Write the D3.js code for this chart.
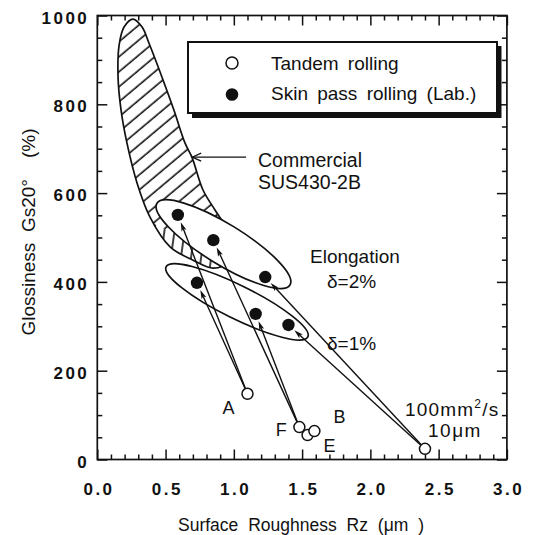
<!DOCTYPE html>
<html>
<head>
<meta charset="utf-8">
<script src="https://cdn.jsdelivr.net/npm/d3@7"></script>
<style>
  html, body { margin: 0; padding: 0; background: #fff; }
  svg { display: block; }
  text { font-family: "Liberation Sans", Arial, Helvetica, sans-serif; fill: #111; }
</style>
</head>
<body>
<svg id="chart"></svg>
<script>
// ---- data ----
const xMajor = [0, 0.5, 1.0, 1.5, 2.0, 2.5, 3.0];
const yMajor = [0, 200, 400, 600, 800, 1000];
const xMinor = [0.1, 0.2, 0.3, 0.4, 0.6, 0.7, 0.8, 0.9, 1.1, 1.2, 1.3, 1.4, 1.6, 1.7, 1.8, 1.9, 2.1, 2.2, 2.3, 2.4, 2.6, 2.7, 2.8, 2.9];
const yMinor = [50, 100, 150, 250, 300, 350, 450, 500, 550, 650, 700, 750, 850, 900, 950];

// tandem rolling (open circles)
const tandemX = [1.10, 1.48, 1.54, 1.59, 2.40];
const tandemY = [148, 73, 55, 64, 24];
const tandemNames = ['A', 'F', 'E', 'B', ''];

// skin pass rolling, lab (filled circles)
const skinX = [0.59, 0.85, 0.73, 1.16, 1.23, 1.40];
const skinY = [551, 494, 398, 328, 411, 303];

// arrows: [tandem index, skin index]
const arrowPairs = [[0, 0], [0, 2], [1, 1], [1, 3], [4, 4], [4, 5]];

// commercial SUS430-2B band (outline)
const commercialX = [0.261, 0.328, 0.378, 0.474, 0.561, 0.642, 0.693, 0.774, 0.862, 0.928, 0.986, 0.960,
                     0.849, 0.701, 0.533, 0.386, 0.291, 0.217, 0.174, 0.152, 0.160, 0.196];
const commercialY = [992, 974, 938, 861, 787, 713, 681, 607, 562, 530, 490, 445,
                     431, 449, 479, 546, 623, 713, 787, 861, 934, 974];

// elongation ellipses: delta = 2 %, delta = 1 %
const ellipseCenter = [[0.924, 485], [1.023, 355]];
const ellipseEnd = [[1.411, 393], [1.542, 276]];
const ellipseMinor = [[1.001, 524], [1.075, 389]];

const legendLabels = ['Tandem rolling', 'Skin pass rolling (Lab.)'];

// ---- layout ----
const width = 536, height = 535;
const plot = { left: 97.3, right: 506.9, top: 15.5, bottom: 459.5 };
const ink = '#111';

const svg = d3.select('#chart').attr('width', width).attr('height', height);
svg.append('rect').attr('width', width).attr('height', height).attr('fill', '#fff');

const x = d3.scaleLinear().domain([0, 3]).range([plot.left, plot.right]);
const y = d3.scaleLinear().domain([0, 1000]).range([plot.bottom, plot.top]);

// hatch patterns
const defs = svg.append('defs');
defs.append('pattern')
  .attr('id', 'hatchDiag')
  .attr('patternUnits', 'userSpaceOnUse')
  .attr('width', 10).attr('height', 11.5)
  .attr('patternTransform', 'rotate(-40)')
  .append('line')
  .attr('x1', -1).attr('y1', 5).attr('x2', 11).attr('y2', 5)
  .attr('stroke', ink).attr('stroke-width', 1.6);

defs.append('pattern')
  .attr('id', 'hatchVert')
  .attr('patternUnits', 'userSpaceOnUse')
  .attr('width', 10).attr('height', 10)
  .attr('patternTransform', 'rotate(8)')
  .append('line')
  .attr('x1', 5).attr('y1', -1).attr('x2', 5).attr('y2', 11)
  .attr('stroke', ink).attr('stroke-width', 1.6);

const outline = d3.range(commercialX.length).map(i => [x(commercialX[i]), y(commercialY[i])]);
const bandLine = d3.line().curve(d3.curveCatmullRomClosed.alpha(0.5));

defs.append('clipPath').attr('id', 'bandClip')
  .append('path').attr('d', bandLine(outline));

// Commercial band: diagonal hatch, vertical hatch in the lower part
svg.append('path')
  .attr('d', bandLine(outline))
  .attr('fill', 'url(#hatchDiag)');

const lower = svg.append('g').attr('clip-path', 'url(#bandClip)');
const split = [[x(0), y(590)], [x(1.05), y(440)], [x(1.05), y(300)], [x(0), y(300)]];
lower.append('path').attr('d', d3.line()(split) + 'Z').attr('fill', '#fff');
lower.append('path').attr('d', d3.line()(split) + 'Z').attr('fill', 'url(#hatchVert)');

svg.append('path')
  .attr('d', bandLine(outline))
  .attr('fill', 'none')
  .attr('stroke', ink)
  .attr('stroke-width', 1.7);

// Elongation ellipses (white fill hides the hatch)
const ellipses = ellipseCenter.map((c, i) => {
  const cx = x(c[0]), cy = y(c[1]);
  const ex = x(ellipseEnd[i][0]), ey = y(ellipseEnd[i][1]);
  const mx = x(ellipseMinor[i][0]), my = y(ellipseMinor[i][1]);
  return {
    cx, cy,
    rx: Math.hypot(ex - cx, ey - cy),
    ry: Math.hypot(mx - cx, my - cy),
    angle: Math.atan2(ey - cy, ex - cx) * 180 / Math.PI
  };
});

const ellG = svg.append('g');
ellG.selectAll('.ell-fill').data(ellipses).join('ellipse')
  .attr('class', 'ell-fill')
  .attr('transform', d => `translate(${d.cx},${d.cy}) rotate(${d.angle})`)
  .attr('rx', d => d.rx).attr('ry', d => d.ry)
  .attr('fill', '#fff');
ellG.selectAll('.ell-line').data(ellipses).join('ellipse')
  .attr('class', 'ell-line')
  .attr('transform', d => `translate(${d.cx},${d.cy}) rotate(${d.angle})`)
  .attr('rx', d => d.rx).attr('ry', d => d.ry)
  .attr('fill', 'none')
  .attr('stroke', ink)
  .attr('stroke-width', 1.7);

// Arrows from tandem samples to skin pass samples
const arrowG = svg.append('g');
arrowPairs.forEach(([ti, si]) => {
  const x0 = x(tandemX[ti]), y0 = y(tandemY[ti]);
  const x1 = x(skinX[si]), y1 = y(skinY[si]);
  const len = Math.hypot(x1 - x0, y1 - y0);
  const ux = (x1 - x0) / len, uy = (y1 - y0) / len;
  const sx = x0 + ux * 5.5, sy = y0 + uy * 5.5;
  const tx = x1 - ux * 8, ty = y1 - uy * 8;
  const hl = 9, hw = 2.6;
  const bx = tx - ux * hl, by = ty - uy * hl;
  arrowG.append('line')
    .attr('x1', sx).attr('y1', sy).attr('x2', bx + ux * 2).attr('y2', by + uy * 2)
    .attr('stroke', ink).attr('stroke-width', 1.4);
  arrowG.append('path')
    .attr('d', `M${tx},${ty}L${bx - uy * hw},${by + ux * hw}L${bx + ux * 2},${by + uy * 2}L${bx + uy * hw},${by - ux * hw}Z`)
    .attr('fill', ink);
});

// Points
svg.append('g').selectAll('circle')
  .data(skinX.map((v, i) => [v, skinY[i]]))
  .join('circle')
  .attr('cx', d => x(d[0])).attr('cy', d => y(d[1]))
  .attr('r', 6.2)
  .attr('fill', ink);

svg.append('g').selectAll('circle')
  .data(tandemX.map((v, i) => [v, tandemY[i]]))
  .join('circle')
  .attr('cx', d => x(d[0])).attr('cy', d => y(d[1]))
  .attr('r', 5.5)
  .attr('fill', '#fff')
  .attr('stroke', ink)
  .attr('stroke-width', 1.5);

// Point labels
const nameOffset = { A: [-19, 20], F: [-18, 9], E: [22, 17], B: [25, -8] };
svg.append('g').selectAll('text')
  .data(tandemNames.map((n, i) => ({ n, i })).filter(d => d.n))
  .join('text')
  .attr('x', d => x(tandemX[d.i]) + nameOffset[d.n][0])
  .attr('y', d => y(tandemY[d.i]) + nameOffset[d.n][1])
  .attr('text-anchor', 'middle')
  .attr('font-size', 18)
  .text(d => d.n);

// ---- axes ----
function styleAxis(g) {
  g.select('.domain').remove();
  g.selectAll('.tick line').attr('stroke', ink).attr('stroke-width', 1.5);
  g.selectAll('.tick text')
    .attr('font-size', 17)
    .attr('font-weight', 'bold')
    .attr('letter-spacing', '2.5px')
    .attr('fill', ink);
}

svg.append('g')
  .attr('transform', `translate(0,${plot.bottom})`)
  .call(d3.axisBottom(x).tickValues(xMajor).tickSize(-10).tickSizeOuter(0).tickPadding(23).tickFormat(d3.format('.1f')))
  .call(styleAxis)
  .selectAll('.tick text').attr('dx', '1.2px');
svg.append('g')
  .attr('transform', `translate(0,${plot.bottom})`)
  .call(d3.axisBottom(x).tickValues(xMinor).tickSize(-5).tickSizeOuter(0).tickFormat(''))
  .call(styleAxis);

svg.append('g')
  .attr('transform', `translate(0,${plot.top})`)
  .call(d3.axisTop(x).tickValues(xMajor).tickSize(-10).tickSizeOuter(0).tickFormat(''))
  .call(styleAxis);
svg.append('g')
  .attr('transform', `translate(0,${plot.top})`)
  .call(d3.axisTop(x).tickValues(xMinor).tickSize(-5).tickSizeOuter(0).tickFormat(''))
  .call(styleAxis);

svg.append('g')
  .attr('transform', `translate(${plot.left},0)`)
  .call(d3.axisLeft(y).tickValues(yMajor).tickSize(-10).tickSizeOuter(0).tickPadding(8).tickFormat(d3.format('d')))
  .call(styleAxis)
  .selectAll('.tick text').attr('dy', '0.45em');
svg.append('g')
  .attr('transform', `translate(${plot.left},0)`)
  .call(d3.axisLeft(y).tickValues(yMinor).tickSize(-5).tickSizeOuter(0).tickFormat(''))
  .call(styleAxis);

svg.append('g')
  .attr('transform', `translate(${plot.right},0)`)
  .call(d3.axisRight(y).tickValues(yMajor).tickSize(-10).tickSizeOuter(0).tickFormat(''))
  .call(styleAxis);
svg.append('g')
  .attr('transform', `translate(${plot.right},0)`)
  .call(d3.axisRight(y).tickValues(yMinor).tickSize(-5).tickSizeOuter(0).tickFormat(''))
  .call(styleAxis);

// frame
svg.append('rect')
  .attr('x', plot.left).attr('y', plot.top)
  .attr('width', plot.right - plot.left).attr('height', plot.bottom - plot.top)
  .attr('fill', 'none')
  .attr('stroke', ink)
  .attr('stroke-width', 1.7);

// axis titles
svg.append('text')
  .attr('x', 301).attr('y', 531)
  .attr('text-anchor', 'middle')
  .attr('font-size', 17.5)
  .attr('word-spacing', '5px')
  .text('Surface Roughness  Rz  (μm )');

svg.append('text')
  .attr('transform', 'translate(35,232) rotate(-90)')
  .attr('text-anchor', 'middle')
  .attr('font-size', 19)
  .attr('xml:space', 'preserve')
  .text('Glossiness  Gs20°    (%)');

// ---- legend ----
const legend = svg.append('g');
legend.append('path')
  .attr('d', 'M192,113 L497,113 L497,46 L501.5,46 L501.5,118 L192,118 Z')
  .attr('fill', ink);
legend.append('rect')
  .attr('x', 188).attr('y', 42).attr('width', 309).attr('height', 71)
  .attr('fill', '#fff').attr('stroke', ink).attr('stroke-width', 2);
legend.append('circle')
  .attr('cx', 232).attr('cy', 63).attr('r', 6)
  .attr('fill', '#fff').attr('stroke', ink).attr('stroke-width', 1.5);
legend.append('circle')
  .attr('cx', 232).attr('cy', 94.5).attr('r', 6.3)
  .attr('fill', ink);
legend.selectAll('.leg-text').data(legendLabels).join('text')
  .attr('class', 'leg-text')
  .attr('x', 271).attr('y', (d, i) => 70 + i * 30)
  .attr('font-size', 19)
  .attr('word-spacing', '4px')
  .text(d => d);

// ---- annotations ----
const note = svg.append('g').attr('font-size', 19);
note.append('text').attr('x', 258).attr('y', 167).attr('font-size', 19.5).text('Commercial');
note.append('text').attr('x', 258).attr('y', 189).attr('font-size', 19.5).text('SUS430-2B');

// arrow pointing at the commercial band
const ax0 = x(1.09), ax1 = x(0.695), ay = y(681);
note.append('line').attr('x1', ax0).attr('y1', ay).attr('x2', ax1).attr('y2', ay)
  .attr('stroke', ink).attr('stroke-width', 1.2);
note.append('path')
  .attr('d', `M${ax1 + 9},${ay - 4}L${ax1},${ay}L${ax1 + 9},${ay + 4}`)
  .attr('fill', 'none').attr('stroke', ink).attr('stroke-width', 1.2);

note.append('text').attr('x', 310).attr('y', 263).text('Elongation');
note.append('text').attr('x', 327).attr('y', 288).text('δ=2%');
note.append('text').attr('x', 327).attr('y', 350).text('δ=1%');

const visc = note.append('text').attr('x', 405).attr('y', 416).attr('letter-spacing', '1.2px');
visc.append('tspan').text('100mm');
visc.append('tspan').attr('font-size', 12).attr('dy', -8).text('2');
visc.append('tspan').attr('dy', 8).text('/s');
note.append('text').attr('x', 428).attr('y', 437).attr('letter-spacing', '1.5px').text('10μm');
</script>
</body>
</html>
